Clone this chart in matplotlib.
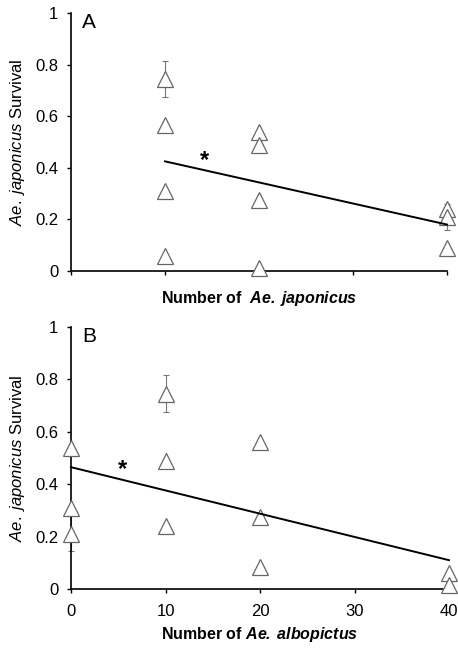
import matplotlib
matplotlib.use("Agg")
import matplotlib.pyplot as plt

plt.rcParams['font.family'] = ['Liberation Sans', 'DejaVu Sans']
plt.rcParams['mathtext.fontset'] = 'custom'
plt.rcParams['mathtext.rm'] = 'Liberation Sans'
plt.rcParams['mathtext.it'] = 'Liberation Sans:italic'
plt.rcParams['mathtext.bf'] = 'Liberation Sans:bold'
plt.rcParams['mathtext.bfit'] = 'Liberation Sans:bold:italic'

# Panel A data
a_x = [10, 10, 10, 10, 20, 20, 20, 20, 40, 40, 40]
a_y = [0.745, 0.565, 0.31, 0.06, 0.54, 0.49, 0.275, 0.01, 0.24, 0.21, 0.09]
a_err_x = [10, 40]
a_err_y = [0.745, 0.21]
a_err = [0.07, 0.05]
a_line_x = [10, 40]
a_line_y = [0.425, 0.18]

# Panel B data
b_x = [0, 0, 0, 10, 10, 10, 20, 20, 20, 40, 40]
b_y = [0.54, 0.31, 0.21, 0.745, 0.49, 0.24, 0.56, 0.275, 0.085, 0.06, 0.015]
b_err_x = [0, 10]
b_err_y = [0.215, 0.745]
b_err = [0.07, 0.07]
b_line_x = [0, 40]
b_line_y = [0.465, 0.11]

yticks = [0, 0.2, 0.4, 0.6, 0.8, 1]
yticklabels = ["0", "0.2", "0.4", "0.6", "0.8", "1"]
xticks = [0, 10, 20, 30, 40]
xticklabels = ["0", "10", "20", "30", "40"]

W, H = 458, 648
fig = plt.figure(figsize=(W / 100, H / 100), dpi=100)

def px_axes(l, r, t, b):
    return fig.add_axes([l / W, 1 - b / H, (r - l) / W, (b - t) / H])

axA = px_axes(71, 447, 13, 271)
axB = px_axes(71, 449, 327, 589)

def style(ax, xs, ys, ex, ey, ee, lx, ly, letter, star, show_xlabels, xlabel):
    ax.errorbar(ex, ey, yerr=ee, fmt='none', ecolor='#777777', elinewidth=0.8,
                capsize=2.5, capthick=0.8, clip_on=False, zorder=2)
    ax.plot(xs, ys, linestyle='none', marker='^', markersize=11,
            markerfacecolor='white', markeredgecolor='#666666',
            markeredgewidth=0.9, clip_on=False, zorder=3)
    ax.plot(lx, ly, color='black', linewidth=1.4, zorder=4, clip_on=False)
    ax.set_xlim(0, 40)
    ax.set_ylim(0, 1)
    for s in ['top', 'right']:
        ax.spines[s].set_visible(False)
    for s in ['left', 'bottom']:
        ax.spines[s].set_linewidth(1.2)
    ax.set_yticks(yticks)
    ax.set_yticklabels(yticklabels, fontsize=12)
    ax.set_xticks(xticks)
    if show_xlabels:
        ax.set_xticklabels(xticklabels, fontsize=12)
    else:
        ax.set_xticklabels([""] * len(xticks))
    ax.tick_params(axis='y', direction='out', length=3, width=1, pad=6)
    ax.tick_params(axis='x', direction='out', length=3, width=1, pad=8)
    ax.set_ylabel(r"$\mathit{Ae.\;japonicus}$ Survival", fontsize=12, labelpad=6)
    ax.set_xlabel(xlabel, fontsize=11.5, fontweight='bold', labelpad=4)
    ax.text(1.2, 0.965, letter, fontsize=15, ha='left', va='center')
    ax.text(star[0], star[1], "*", fontsize=17, fontweight='bold',
            ha='center', va='center')

style(axA, a_x, a_y, a_err_x, a_err_y, a_err, a_line_x, a_line_y, "A", (14.2, 0.43),
      False, r"Number of  $\mathbfit{Ae.\;japonicus}$")
style(axB, b_x, b_y, b_err_x, b_err_y, b_err, b_line_x, b_line_y, "B", (5.4, 0.455),
      True, r"Number of $\mathbfit{Ae.\;albopictus}$")
axA.xaxis.labelpad = 2

fig.savefig("out.png", dpi=100)
